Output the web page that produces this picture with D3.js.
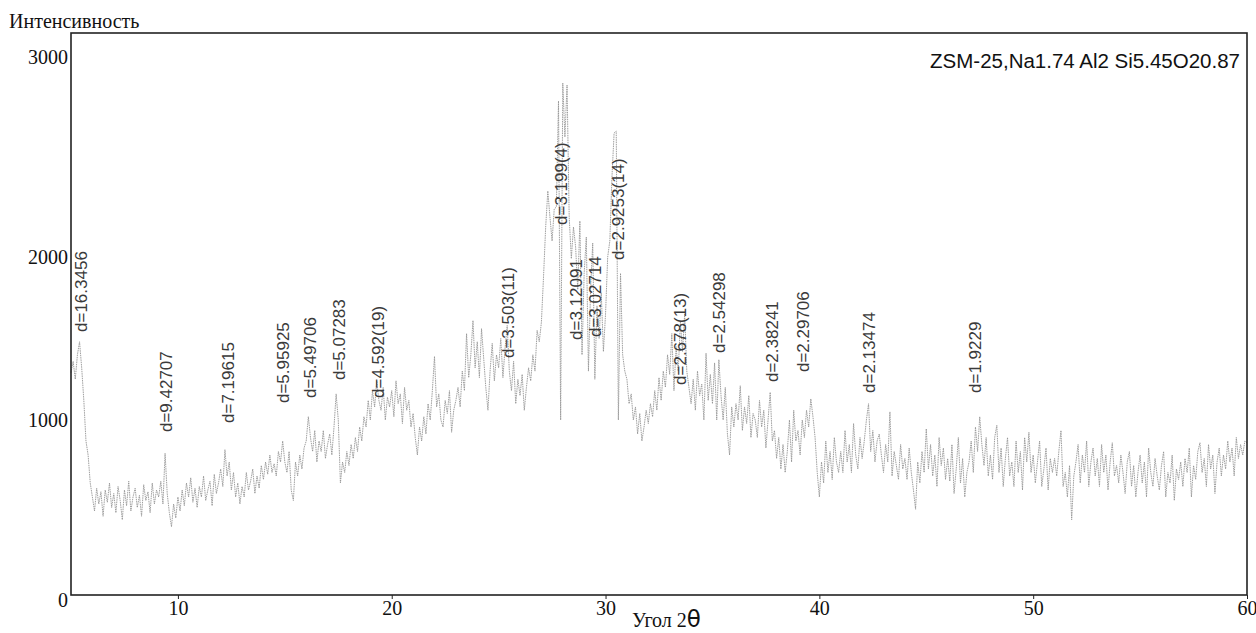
<!DOCTYPE html>
<html><head><meta charset="utf-8">
<script src="https://cdn.jsdelivr.net/npm/d3@7"></script>
<style>body{margin:0;background:#fff}svg{display:block}</style>
</head><body><svg id="c" width="1256" height="633"></svg>
<script>
// Intensity sampled every 0.1 degree of 2θ, from 5.0 to 60.0
const thetaStart = 5.0;
const thetaStep = 0.1;
const intensity = [
 1290,1360,1250,1400,1480,1320,1120,880,800,640,
 560,480,610,520,590,450,600,530,640,500,
 580,470,620,540,430,600,510,650,480,560,
 610,500,570,450,630,540,590,470,640,520,
 600,560,650,520,810,580,470,390,520,440,
 560,480,600,510,640,560,670,530,610,500,
 620,560,680,540,600,650,510,690,580,640,
 720,620,830,680,760,600,700,560,640,520,
 620,560,700,600,650,720,580,680,610,740,
 660,760,690,800,700,750,680,820,760,880,
 760,700,820,600,540,760,680,800,720,840,
 880,1020,900,820,940,760,880,820,940,780,
 860,920,800,960,1160,1000,640,760,700,820,
 740,860,780,900,820,960,880,1020,960,1120,
 1000,1180,1080,1240,1120,1060,1200,1000,1140,1080,
 1180,1020,1240,1100,1160,980,1200,1060,1120,960,
 1040,900,800,960,880,1020,920,1100,1000,1180,
 1390,1080,1160,1000,960,1120,1040,1180,930,1060,
 1120,1200,1080,1300,1180,1530,1260,1400,1610,1320,
 1480,1260,1560,1380,1200,1060,1300,1470,1240,1400,
 1320,1500,1260,1440,1580,1300,1180,1360,1100,1250,
 1150,1280,1060,1200,1320,1240,1400,1300,1550,1480,
 1600,1880,2150,2330,2200,2080,2240,2250,2780,1000,
 2870,2600,2860,2200,1990,2150,2050,1800,2180,1400,
 1900,2100,1300,1800,2070,1250,1700,1500,1780,1420,
 1650,2000,2080,2400,2620,2630,1000,1900,1400,1300,
 1250,1100,1160,1000,1080,920,1040,880,960,1060,
 980,1100,1020,1180,1060,1260,1120,1300,1200,1400,
 1280,1530,1180,1450,1300,1600,1420,1650,1300,1200,
 1100,1250,1060,1300,1150,1220,1000,1410,1120,1280,
 1100,1350,1000,1370,1150,1000,1200,920,800,1080,
 960,1100,1000,1210,940,1080,980,1150,900,1040,
 1000,900,1120,960,1060,840,1000,1170,880,940,
 780,900,720,860,700,820,1000,760,1060,880,
 940,800,1000,900,1060,960,1130,1020,900,700,
 560,760,640,880,700,820,660,900,760,700,
 820,700,940,760,860,700,980,800,720,900,
 780,880,1000,1100,820,940,760,880,920,800,
 700,860,760,1050,680,820,740,660,860,720,
 780,660,840,700,600,490,760,640,820,700,
 950,720,860,680,800,620,900,740,840,660,
 780,650,860,580,720,900,640,780,560,700,
 760,880,700,960,820,1020,860,740,900,680,
 800,660,900,970,700,840,620,780,900,680,
 760,620,880,700,820,600,900,760,930,700,
 800,640,760,880,620,720,840,600,780,700,
 780,680,820,940,620,700,560,740,430,680,
 760,860,640,800,700,880,620,760,840,680,
 780,620,860,700,800,600,760,870,680,740,
 640,800,700,580,760,820,620,740,560,700,
 800,640,760,560,840,700,620,780,680,600,
 740,820,560,700,640,800,540,720,660,760,
 620,780,700,840,560,740,660,820,870,700,
 780,620,860,720,800,580,760,840,680,800,
 720,880,760,840,680,900,780,860,800,880,
 870
];
const xTicks = [10, 20, 30, 40, 50, 60];
const yTicks = [0, 1000, 2000, 3000];
const peakLabels = ["d=16.3456","d=9.42707","d=7.19615","d=5.95925","d=5.49706","d=5.07283",
  "d=4.592(19)","d=3.503(11)","d=3.199(4)","d=3.12091","d=3.02714","d=2.9253(14)",
  "d=2.678(13)","d=2.54298","d=2.38241","d=2.29706","d=2.13474","d=1.9229"];
const peakTheta = [5.40, 9.38, 12.29, 14.85, 16.11, 17.47, 19.31, 25.41, 27.87, 28.58, 29.48, 30.53,
  33.43, 35.26, 37.73, 39.19, 42.30, 47.23];
const peakLabelBase = [1540, 931, 983, 1104, 1135, 1245, 1135, 1380, 2160, 1491, 1509, 1982,
  1215, 1411, 1233, 1294, 1166, 1166];
const yTitle = "Интенсивность";
const xTitle = "Угол 2";
const xTitleSymbol = "θ";
const sampleName = "ZSM-25,Na1.74 Al2 Si5.45O20.87";

const svg = d3.select("#c");
const L = 71, R = 1247, T = 33, B = 595;
const x = d3.scaleLinear().domain([5, 60]).range([L, R]);
const y = d3.scaleLinear().domain([0, 1000, 2000, 3000]).range([B, 420, 257, 57]);

// pattern trace
const line = d3.line()
  .x((d, i) => x(thetaStart + i * thetaStep))
  .y(d => y(d));
svg.append("path")
  .datum(intensity)
  .attr("d", line)
  .attr("fill", "none")
  .attr("stroke", "#949494")
  .attr("stroke-width", 0.9)
  .attr("stroke-dasharray", "1.5,0.8");

// frame
svg.append("rect").attr("x", L).attr("y", T).attr("width", R - L).attr("height", B - T)
  .attr("fill", "none").attr("stroke", "#222").attr("stroke-width", 1.6);

// x axis
const xAxis = d3.axisBottom(x).tickValues(xTicks).tickSize(4).tickFormat(d3.format("d"));
const gx = svg.append("g").attr("transform", `translate(0,${B})`).call(xAxis);
gx.select(".domain").remove();
gx.selectAll("line").attr("stroke", "#222");
gx.selectAll("text").attr("font-family", "'Liberation Serif', 'Times New Roman', serif")
  .attr("font-size", 20).attr("fill", "#111").attr("dy", "0.65em");

// y axis labels
const gy = svg.append("g");
gy.selectAll("text").data(yTicks).join("text")
  .attr("x", 68)
  .attr("y", d => y(d) + (d === 0 ? 5 : 0))
  .attr("dy", "0.35em")
  .attr("text-anchor", "end")
  .attr("font-family", "'Liberation Serif', 'Times New Roman', serif")
  .attr("font-size", 20).attr("fill", "#111")
  .text(d => d);

// titles
svg.append("text").attr("x", 9).attr("y", 28)
  .attr("font-family", "'Liberation Serif', 'Times New Roman', serif")
  .attr("font-size", 20).attr("fill", "#111").text(yTitle);
const xt = svg.append("text").attr("x", 632).attr("y", 627)
  .attr("font-family", "'Liberation Serif', 'Times New Roman', serif")
  .attr("font-size", 20).attr("fill", "#111");
xt.append("tspan").text(xTitle);
xt.append("tspan").attr("font-family", "'DejaVu Sans', sans-serif").attr("font-size", 23).text(xTitleSymbol);

svg.append("text").attr("x", 1240).attr("y", 68).attr("text-anchor", "end")
  .attr("font-family", "'Liberation Sans', Arial, sans-serif")
  .attr("font-size", 20.5).attr("fill", "#111").text(sampleName);

// peak labels
svg.append("g").selectAll("text").data(peakLabels).join("text")
  .attr("transform", (d, i) => `translate(${x(peakTheta[i]) + 1},${y(peakLabelBase[i])}) rotate(-90)`)
  .attr("dy", "0.35em")
  .attr("text-anchor", "start")
  .attr("font-family", "'Liberation Sans', Arial, sans-serif")
  .attr("font-size", 17).attr("fill", "#3a3a3a")
  .text(d => d);
</script></body></html>
